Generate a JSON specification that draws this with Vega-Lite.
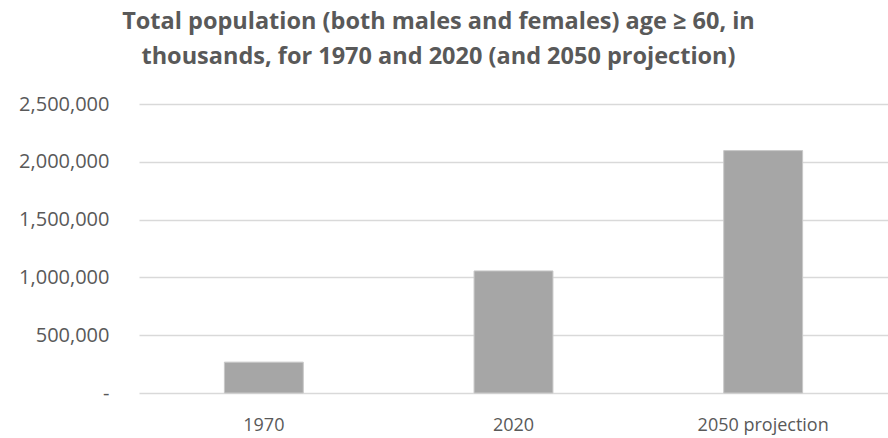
{
  "$schema": "https://vega.github.io/schema/vega-lite/v6.json",
  "autosize": {"type": "none"},
  "padding": {"left": 139, "top": 104, "right": 0, "bottom": 45},
  "width": 749,
  "height": 289,
  "background": "white",
  "title": {
    "text": ["Total population (both males and females) age ≥ 60, in", "thousands, for 1970 and 2020 (and 2050 projection)"],
    "font": "Open Sans",
    "fontSize": 23.5,
    "fontWeight": "bold",
    "color": "#595959",
    "anchor": "middle",
    "dx": -75,
    "lineHeight": 35,
    "offset": 26
  },
  "data": {
    "values": [
      {"period": "1970", "population": 267000},
      {"period": "2020", "population": 1056000},
      {"period": "2050 projection", "population": 2097000}
    ]
  },
  "mark": {"type": "bar", "color": "#a6a6a6", "stroke": "#c8c8c8", "strokeWidth": 1},
  "encoding": {
    "x": {
      "field": "period",
      "type": "nominal",
      "sort": null,
      "scale": {"paddingInner": 0.684, "paddingOuter": 0.342},
      "axis": {
        "title": null,
        "labelAngle": 0,
        "labelFont": "Open Sans",
        "labelFontSize": 18,
        "labelColor": "#595959",
        "labelPadding": 23,
        "ticks": false,
        "domain": false
      }
    },
    "y": {
      "field": "population",
      "type": "quantitative",
      "scale": {"domain": [0, 2500000]},
      "axis": {
        "title": null,
        "values": [0, 500000, 1000000, 1500000, 2000000, 2500000],
        "labelExpr": "datum.value == 0 ? '-' : format(datum.value, ',.0f')",
        "labelFont": "Open Sans",
        "labelFontSize": 20,
        "labelColor": "#595959",
        "labelPadding": 30,
        "ticks": false,
        "domain": false,
        "gridColor": "#d9d9d9",
        "gridWidth": 1.5,
        "encode": {"labels": {"update": {"dx": {"signal": "datum.value == 0 ? -11 : 0"}}}}
      }
    }
  },
  "config": {"view": {"stroke": null}}
}
